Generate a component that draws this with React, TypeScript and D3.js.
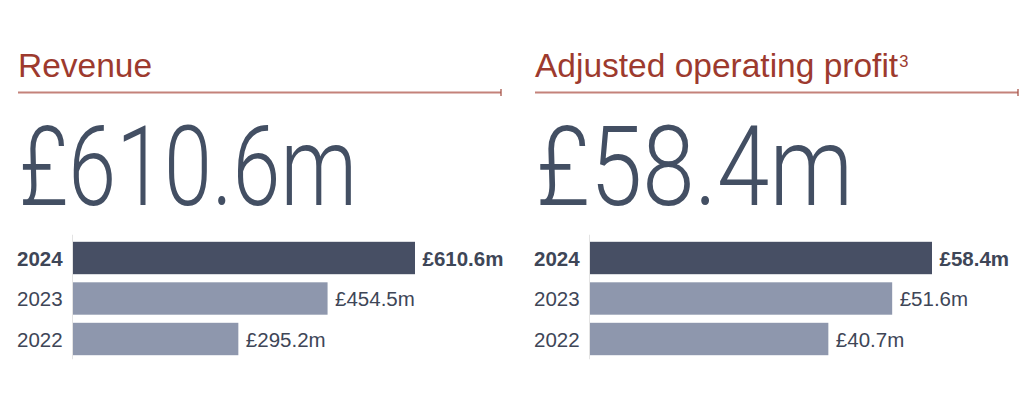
import * as d3 from 'd3'
import React from 'react'

const years: string[] = ['2024', '2023', '2022']
const revenue: number[] = [610.6, 454.5, 295.2]
const profit: number[] = [58.4, 51.6, 40.7]
const titles: string[] = ['Revenue', 'Adjusted operating profit']
const headline: string[] = ['£610.6m', '£58.4m']
const notes: string[] = ['', '3']

const svgWidth = 1030
const svgHeight = 396

const titleColor = '#9d3a2e'
const ruleColor = '#c4827a'
const textColor = '#3e4657'
const darkBar = '#474f64'
const lightBar = '#8e97ad'
const sans = '"Liberation Sans", Arial, Helvetica, sans-serif'

const fmt = (v: number): string => `£${v.toFixed(1)}m`

interface PanelProps {
  x0: number
  title: string
  note: string
  big: string
  bigWidth: number
  values: number[]
}

const Panel: React.FC<PanelProps> = ({x0, title, note, big, bigWidth, values}) => {
  const axisX = x0 + 55
  const xScale = d3.scaleLinear()
    .domain([0, d3.max(values)!])
    .range([axisX, axisX + 342])
  const yScale = d3.scaleBand<string>()
    .domain(years)
    .range([237.75, 359.25])
    .paddingInner(0.2)
    .paddingOuter(0.1)
  const ruleEnd = x0 + 483

  return (
    <g>
      <text x={x0} y={77} fill={titleColor} fontFamily={sans} fontSize={33.5}>
        {title}
        {note && <tspan fontSize={16.5} dy={-10.5} dx={1}>{note}</tspan>}
      </text>
      <line x1={x0} x2={ruleEnd} y1={92.5} y2={92.5} stroke={ruleColor} strokeWidth={1.8} />
      <line x1={ruleEnd} x2={ruleEnd} y1={89} y2={96} stroke="#a8554a" strokeWidth={1.3} />

      <text x={x0 + 1} y={205} fill="#434f63" fontFamily="Roboto, sans-serif" fontWeight={300}
        fontSize={112} textLength={bigWidth} lengthAdjust="spacingAndGlyphs">
        {big}
      </text>

      <line x1={axisX - 0.5} x2={axisX - 0.5} y1={yScale.range()[0] - 3} y2={yScale.range()[1]}
        stroke="#e3e3e3" strokeWidth={1} />

      {years.map((yr, i) => {
        const y = yScale(yr)!
        const bw = yScale.bandwidth()
        const bold = i === 0
        return (
          <g key={yr}>
            <rect x={axisX} y={y} width={xScale(values[i]) - axisX} height={bw}
              fill={bold ? darkBar : lightBar} />
            <text x={x0 - 1} y={y + bw / 2 + 7.5} fill={textColor} fontFamily={sans}
              fontSize={20.5} fontWeight={bold ? 700 : 400}>{yr}</text>
            <text x={xScale(values[i]) + 7.5} y={y + bw / 2 + 7.5} fill={textColor} fontFamily={sans}
              fontSize={20.5} fontWeight={bold ? 700 : 400}>{fmt(values[i])}</text>
          </g>
        )
      })}
    </g>
  )
}

export default function App() {
  return (
    <svg width={svgWidth} height={svgHeight}
      style={{position: 'absolute', left: 0, top: 0, display: 'block', background: '#fff'}}>
      <Panel x0={18} title={titles[0]} note={notes[0]} big={headline[0]} bigWidth={338} values={revenue} />
      <Panel x0={535} title={titles[1]} note={notes[1]} big={headline[1]} bigWidth={317} values={profit} />
    </svg>
  )
}
